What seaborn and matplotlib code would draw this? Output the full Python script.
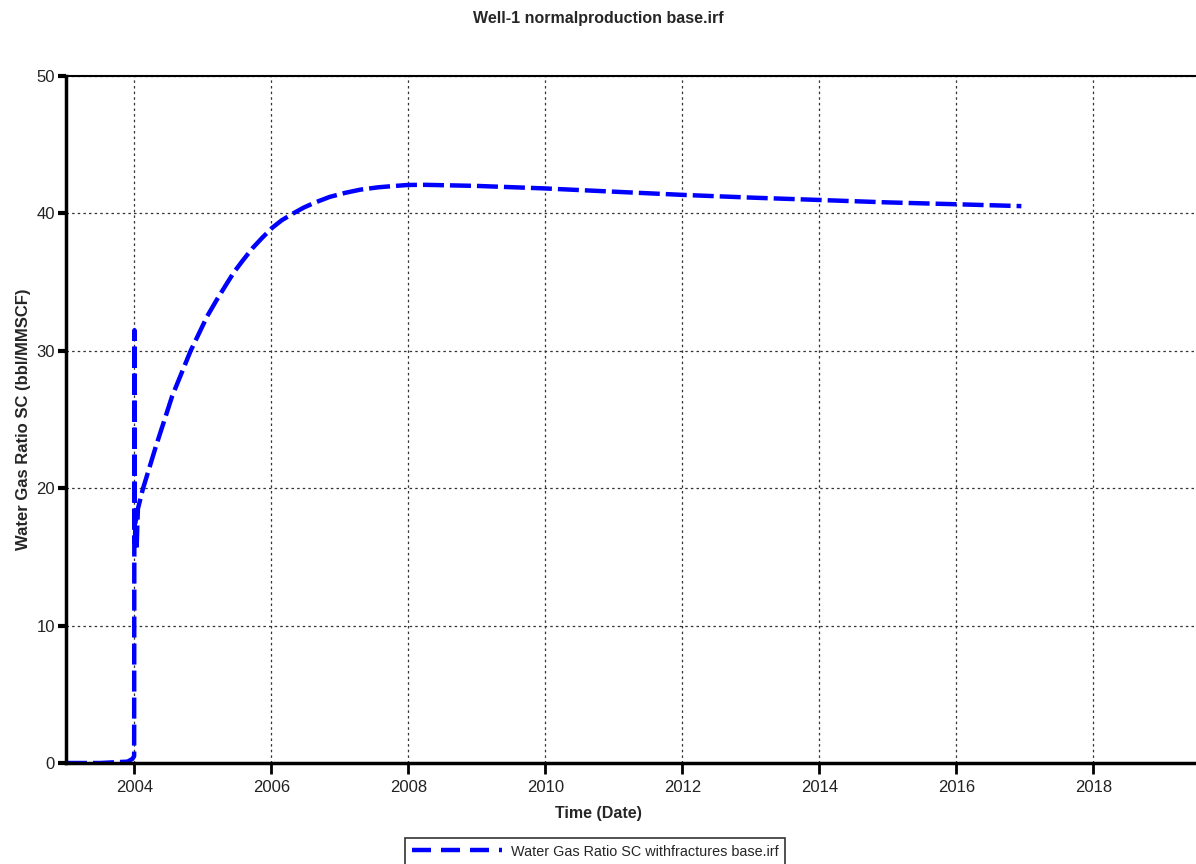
import matplotlib
matplotlib.use("Agg")
import matplotlib.pyplot as plt
from matplotlib.lines import Line2D
import seaborn as sns
import pandas as pd

sns.set_theme(style="white")
plt.rcParams['font.family'] = ['Liberation Sans', 'DejaVu Sans']

# Data (decimal years, bbl/MMSCF)
years = [2003.0, 2003.5, 2003.9, 2003.97, 2003.995, 2004.0, 2004.005, 2004.02, 2004.03, 2004.05,
         2004.12, 2004.31, 2004.55, 2004.82, 2004.95, 2005.06, 2005.2, 2005.33, 2005.45,
         2005.57, 2005.72, 2005.86, 2006.01, 2006.15, 2006.3, 2006.47, 2006.64, 2006.85,
         2007.08, 2007.3, 2007.56, 2007.8, 2008.0, 2008.23, 2009.0, 2009.98,
         2011.0, 2012.04, 2013.0, 2014.04, 2015.0, 2016.04, 2016.95]
wgr = [0.0, 0.0, 0.1, 0.3, 0.5, 31.5, 16.0, 18.3, 15.5, 18.5,
       19.9, 23.0, 26.7, 30.0, 31.35, 32.5, 33.7, 34.75, 35.7,
       36.5, 37.45, 38.2, 38.95, 39.5, 39.95, 40.42, 40.8, 41.2,
       41.5, 41.73, 41.9, 42.0, 42.07, 42.08, 42.0, 41.82,
       41.58, 41.34, 41.15, 40.97, 40.8, 40.66, 40.53]
xticks = [2004, 2006, 2008, 2010, 2012, 2014, 2016, 2018]
yticks = [0, 10, 20, 30, 40, 50]
series_name = "Water Gas Ratio SC withfractures base.irf"

df = pd.DataFrame({"Time": years, "WGR": wgr})

fig = plt.figure(figsize=(11.96, 8.64), dpi=100)
ax = fig.add_axes([66/1196, 1-763/864, 1-66/1196, (763-76)/864])

lw = 3.2
px = 0.72 / lw  # pixels -> dash units
sns.lineplot(data=df, x="Time", y="WGR", ax=ax, color="#0000ff", lw=lw,
             legend=False, sort=False)
ax.lines[0].set_dashes([21 * px, 6 * px])

ax.set_xlim(2003.0, 2019.5)
ax.set_ylim(0, 50)
ax.set_xticks(xticks)
ax.set_xticklabels([str(t) for t in xticks])
ax.set_yticks(yticks)
ax.grid(True, color="#333333", linestyle=(0, (2, 2.5)), linewidth=0.9)

for s in ["left", "bottom"]:
    ax.spines[s].set_linewidth(2.5)
    ax.spines[s].set_color("black")
ax.spines["top"].set_linewidth(1.5)
ax.spines["top"].set_color("black")
ax.spines["right"].set_visible(False)

ax.tick_params(axis="y", direction="out", length=6, width=3, colors="black",
               labelsize=12, left=True, pad=2)
ax.tick_params(axis="x", direction="out", length=8, width=2, colors="black",
               labelsize=12, bottom=True, pad=4)
for lab in ax.get_xticklabels() + ax.get_yticklabels():
    lab.set_color("#222222")

ax.set_xlabel("Time (Date)", fontsize=11.5, fontweight="bold")
ax.xaxis.set_label_coords((598-66)/1130, -(806-763)/687)
ax.set_ylabel("Water Gas Ratio SC (bbl/MMSCF)", fontsize=12, fontweight="bold", labelpad=4)

fig.text(598/1196, 1-18/864, "Well-1 normalproduction base.irf", ha="center", va="center",
         fontsize=11.5, fontweight="bold")

handle = Line2D([], [], color="#0000ff", lw=lw)
handle.set_dashes([19 * px, 10 * px, 19 * px, 10 * px, 19 * px, 10 * px, 3 * px, 10 * px])
leg = fig.legend([handle], [series_name], loc="upper left", bbox_to_anchor=(405/1196, 1-838/864),
                 borderaxespad=0, frameon=True, fancybox=False, fontsize=10.4, handlelength=6.3,
                 borderpad=0.45, edgecolor="black", handletextpad=0.6)
leg.get_frame().set_linewidth(1.2)

fig.savefig("out.png", dpi=100)
